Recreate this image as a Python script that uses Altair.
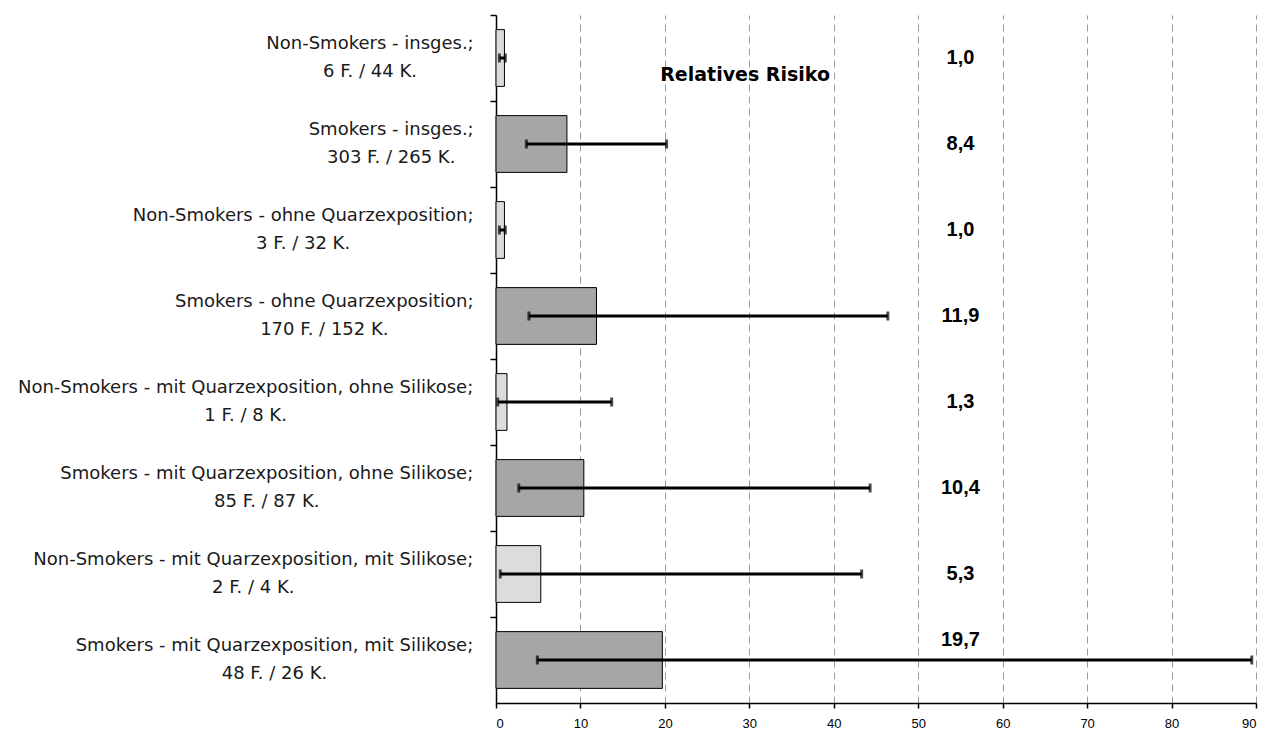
import altair as alt
import pandas as pd

# ---- data ----
groups = [
    "Non-Smokers - insges.;",
    "Smokers - insges.;",
    "Non-Smokers - ohne Quarzexposition;",
    "Smokers - ohne Quarzexposition;",
    "Non-Smokers - mit Quarzexposition, ohne Silikose;",
    "Smokers - mit Quarzexposition, ohne Silikose;",
    "Non-Smokers - mit Quarzexposition, mit Silikose;",
    "Smokers - mit Quarzexposition, mit Silikose;",
]
counts = [
    "6 F. / 44 K.", "303 F. / 265 K.", "3 F. / 32 K.", "170 F. / 152 K.",
    "1 F. / 8 K.", "85 F. / 87 K.", "2 F. / 4 K.", "48 F. / 26 K.",
]
status = ["Non-Smokers", "Smokers"] * 4
rr = [1.0, 8.4, 1.0, 11.9, 1.3, 10.4, 5.3, 19.7]
ci_low = [0.4, 3.6, 0.4, 3.9, 0.2, 2.7, 0.5, 4.9]
ci_high = [1.1, 20.2, 1.1, 46.4, 13.7, 44.3, 43.3, 89.5]
rr_text = ["1,0", "8,4", "1,0", "11,9", "1,3", "10,4", "5,3", "19,7"]
x_ticks = [0, 10, 20, 30, 40, 50, 60, 70, 80, 90]
annotation = "Relatives Risiko"

# ---- layout ----
PLOT_W, PLOT_H = 760, 688
X_MAX = 90
LABEL_FONT_SIZE = 18
LABEL_GAP = 22
VALUE_X = 55

# approximate DejaVu Sans advance widths (units per em = 2048)
DJ = {' ': 651, ',': 651, '-': 739, '.': 651, '/': 690, ';': 690, 'F': 1180,
      'K': 1208, 'N': 1532, 'Q': 1612, 'S': 1300, 'a': 1255, 'e': 1260,
      'g': 1300, 'h': 1298, 'i': 569, 'k': 1186, 'l': 569, 'm': 1995,
      'n': 1298, 'o': 1253, 'p': 1300, 'r': 842, 's': 1067, 't': 803,
      'u': 1298, 'x': 1212, 'z': 1075}


def text_width(s, size):
    return sum(DJ.get(c, 1303) for c in s) / 2048 * size


px_per_unit = PLOT_W / X_MAX
label_x = [-(LABEL_GAP + text_width(g, LABEL_FONT_SIZE) / 2) / px_per_unit for g in groups]

df = pd.DataFrame({
    "group": groups, "counts": counts, "status": status, "rr": rr,
    "lo": ci_low, "hi": ci_high, "rr_text": rr_text, "lx": label_x,
})

base = alt.Chart(df)

y_enc = alt.Y(
    "group:N", sort=groups,
    scale=alt.Scale(paddingInner=0, paddingOuter=0),
    axis=alt.Axis(labels=False, title=None, ticks=True, tickSize=6, bandPosition=0,
                  domainColor="black", tickColor="black", domainWidth=1.5,
                  tickWidth=1.5, grid=False),
)
y_plain = alt.Y("group:N", sort=groups)

x_enc = alt.X(
    "rr:Q",
    scale=alt.Scale(domain=[0, X_MAX], nice=False, zero=True),
    axis=alt.Axis(values=x_ticks, title=None, grid=True, gridDash=[7, 5],
                  gridColor="#9a9a9a", gridWidth=1, domainColor="black",
                  domainWidth=1.5, tickColor="black", tickWidth=1.5, tickSize=5,
                  labelFont="Liberation Sans", labelFontSize=13, labelColor="black",
                  labelPadding=9),
)

bars = base.mark_bar(height={"band": 0.66}, stroke="black", strokeWidth=1).encode(
    x=x_enc,
    y=y_enc,
    fill=alt.Fill("status:N",
                  scale=alt.Scale(domain=["Non-Smokers", "Smokers"],
                                  range=["#dcdcdc", "#a6a6a6"]),
                  legend=None),
)

err = base.mark_rule(color="black", strokeWidth=3).encode(
    x="lo:Q", x2="hi:Q", y=y_plain)

cap_lo = base.mark_tick(color="black", size=9, thickness=3, orient="vertical").encode(
    x="lo:Q", y=y_plain)
cap_hi = base.mark_tick(color="black", size=9, thickness=3, orient="vertical").encode(
    x="hi:Q", y=y_plain)

value_style = dict(font="Liberation Sans", fontWeight="bold", fontSize=20,
                   color="black", align="center", baseline="middle")
# labels whose row's error bar passes under the label column sit above the bar line
values_free = base.transform_filter(f"datum.hi < {VALUE_X - 3}").mark_text(
    **value_style).encode(x=alt.datum(VALUE_X), y=y_plain, text="rr_text:N")
values_lift = base.transform_filter(f"datum.hi >= {VALUE_X - 3}").mark_text(
    dy=-20, **value_style).encode(x=alt.datum(VALUE_X), y=y_plain, text="rr_text:N")

title_txt = alt.Chart(pd.DataFrame({"t": [annotation], "group": [groups[0]]})).mark_text(
    font="DejaVu Sans", fontWeight="bold", fontSize=19, color="black",
    align="center", baseline="middle", dy=17).encode(
    x=alt.datum(29.5), y=y_plain, text="t:N")

line1 = base.mark_text(font="DejaVu Sans", fontSize=LABEL_FONT_SIZE, color="#1a1a1a",
                       align="center", baseline="middle", dy=-14).encode(
    x="lx:Q", y=y_plain, text="group:N")
line2 = base.mark_text(font="DejaVu Sans", fontSize=LABEL_FONT_SIZE, color="#1a1a1a",
                       align="center", baseline="middle", dy=14).encode(
    x="lx:Q", y=y_plain, text="counts:N")

chart = alt.layer(bars, err, cap_lo, cap_hi, values_free, values_lift, title_txt,
                  line1, line2).properties(
    width=PLOT_W, height=PLOT_H,
    autosize=alt.AutoSizeParams(type="none"),
    padding={"left": 496, "top": 15, "right": 20, "bottom": 32},
    background="white",
).configure_view(stroke=None)

chart.save("out.html", embed_options={"renderer": "svg", "actions": False})
